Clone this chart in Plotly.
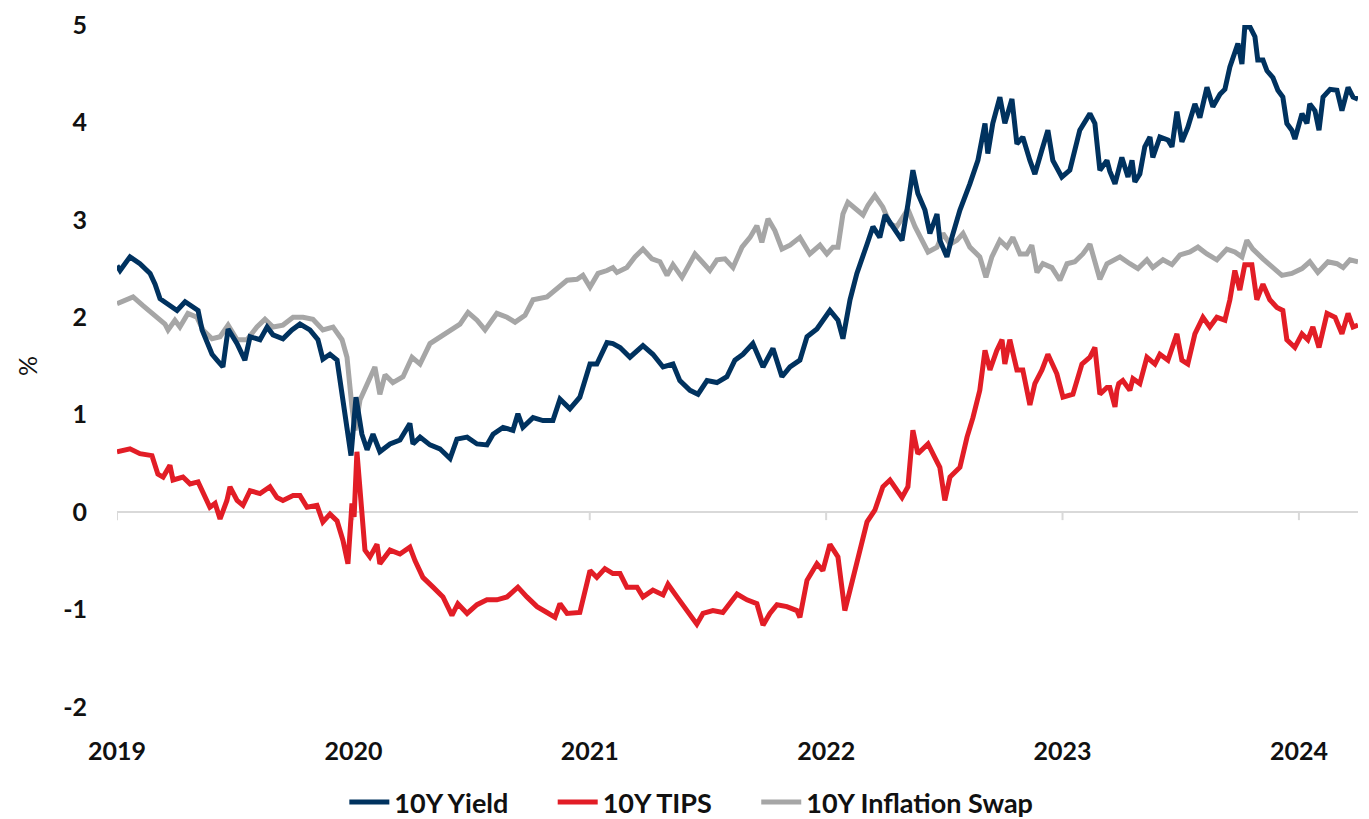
import plotly.graph_objects as go

# ---------------- data (decimal years, percent) ----------------
yield_t = [2019.000, 2019.013, 2019.055, 2019.097, 2019.140, 2019.161, 2019.182, 2019.212, 2019.254, 2019.288,
           2019.321, 2019.343, 2019.360, 2019.381, 2019.402, 2019.423, 2019.448, 2019.470, 2019.508, 2019.541,
           2019.563, 2019.605, 2019.635, 2019.660, 2019.702, 2019.740, 2019.774, 2019.816, 2019.850, 2019.871,
           2019.901, 2019.931, 2019.956, 2019.977, 2019.990, 2020.011, 2020.036, 2020.058, 2020.083, 2020.112,
           2020.155, 2020.197, 2020.239, 2020.252, 2020.282, 2020.324, 2020.366, 2020.409, 2020.438, 2020.481,
           2020.523, 2020.565, 2020.591, 2020.633, 2020.675, 2020.696, 2020.717, 2020.760, 2020.802, 2020.844,
           2020.874, 2020.916, 2020.958, 2021.001, 2021.030, 2021.073, 2021.098, 2021.128, 2021.170, 2021.225,
           2021.267, 2021.310, 2021.352, 2021.381, 2021.424, 2021.458, 2021.496, 2021.538, 2021.580, 2021.614,
           2021.648, 2021.690, 2021.733, 2021.775, 2021.813, 2021.847, 2021.889, 2021.919, 2021.961, 2022.016,
           2022.050, 2022.071, 2022.101, 2022.130, 2022.156, 2022.173, 2022.198, 2022.227, 2022.249, 2022.282,
           2022.321, 2022.346, 2022.367, 2022.388, 2022.418, 2022.439, 2022.469, 2022.481, 2022.511, 2022.532,
           2022.566, 2022.608, 2022.642, 2022.672, 2022.684, 2022.705, 2022.735, 2022.756, 2022.786, 2022.807,
           2022.832, 2022.862, 2022.883, 2022.913, 2022.938, 2022.959, 2022.997, 2023.031, 2023.073, 2023.116,
           2023.137, 2023.158, 2023.188, 2023.200, 2023.222, 2023.251, 2023.277, 2023.294, 2023.306, 2023.327,
           2023.348, 2023.370, 2023.382, 2023.412, 2023.446, 2023.463, 2023.484, 2023.505, 2023.530, 2023.560,
           2023.581, 2023.611, 2023.636, 2023.666, 2023.687, 2023.708, 2023.729, 2023.742, 2023.759, 2023.771,
           2023.793, 2023.814, 2023.826, 2023.848, 2023.865, 2023.890, 2023.911, 2023.932, 2023.949, 2023.970,
           2023.983, 2024.013, 2024.034, 2024.046, 2024.068, 2024.085, 2024.102, 2024.132, 2024.161, 2024.182,
           2024.208, 2024.229, 2024.250]
yield_v = [2.53, 2.48, 2.62, 2.55, 2.45, 2.34, 2.19, 2.14, 2.07, 2.16,
           2.10, 2.07, 1.87, 1.73, 1.62, 1.56, 1.49, 1.88, 1.73, 1.56,
           1.80, 1.77, 1.90, 1.82, 1.78, 1.87, 1.93, 1.87, 1.77, 1.57,
           1.62, 1.56, 1.15, 0.84, 0.58, 1.18, 0.80, 0.64, 0.80, 0.62,
           0.70, 0.74, 0.91, 0.70, 0.77, 0.69, 0.65, 0.55, 0.75, 0.77,
           0.70, 0.69, 0.80, 0.87, 0.84, 1.01, 0.87, 0.97, 0.94, 0.94,
           1.16, 1.06, 1.18, 1.52, 1.52, 1.74, 1.73, 1.69, 1.59, 1.71,
           1.62, 1.49, 1.52, 1.35, 1.25, 1.21, 1.35, 1.33, 1.39, 1.56,
           1.62, 1.73, 1.49, 1.68, 1.39, 1.49, 1.56, 1.80, 1.88, 2.07,
           1.97, 1.78, 2.18, 2.45, 2.65, 2.75, 2.93, 2.82, 3.05, 2.93,
           2.79, 3.16, 3.51, 3.27, 3.10, 2.86, 3.06, 2.79, 2.62, 2.82,
           3.10, 3.37, 3.61, 3.99, 3.68, 3.99, 4.26, 3.99, 4.24, 3.78,
           3.85, 3.61, 3.47, 3.72, 3.92, 3.61, 3.44, 3.51, 3.92, 4.09,
           3.99, 3.51, 3.61, 3.50, 3.37, 3.64, 3.44, 3.61, 3.39, 3.47,
           3.75, 3.85, 3.64, 3.85, 3.82, 3.75, 4.11, 3.80, 3.95, 4.19,
           4.05, 4.36, 4.16, 4.29, 4.34, 4.57, 4.70, 4.81, 4.60, 4.98,
           4.98, 4.88, 4.64, 4.64, 4.53, 4.46, 4.33, 4.26, 3.99, 3.92,
           3.83, 4.09, 3.99, 4.19, 4.12, 3.92, 4.26, 4.34, 4.33, 4.12,
           4.36, 4.26, 4.24]

tips_t = [2019.000, 2019.055, 2019.097, 2019.148, 2019.173, 2019.195, 2019.224, 2019.237, 2019.279, 2019.309,
          2019.343, 2019.364, 2019.393, 2019.415, 2019.436, 2019.465, 2019.478, 2019.508, 2019.533, 2019.563,
          2019.605, 2019.647, 2019.677, 2019.702, 2019.745, 2019.774, 2019.804, 2019.846, 2019.871, 2019.901,
          2019.931, 2019.956, 2019.977, 2019.994, 2020.003, 2020.015, 2020.032, 2020.049, 2020.070, 2020.100,
          2020.112, 2020.155, 2020.197, 2020.239, 2020.261, 2020.294, 2020.337, 2020.379, 2020.417, 2020.442,
          2020.481, 2020.523, 2020.565, 2020.607, 2020.650, 2020.696, 2020.734, 2020.777, 2020.819, 2020.853,
          2020.874, 2020.904, 2020.958, 2020.988, 2021.001, 2021.030, 2021.064, 2021.098, 2021.128, 2021.157,
          2021.200, 2021.225, 2021.267, 2021.310, 2021.331, 2021.369, 2021.411, 2021.453, 2021.479, 2021.521,
          2021.563, 2021.623, 2021.665, 2021.707, 2021.733, 2021.762, 2021.792, 2021.834, 2021.876, 2021.889,
          2021.919, 2021.961, 2021.986, 2022.016, 2022.050, 2022.079, 2022.101, 2022.130, 2022.156, 2022.173,
          2022.206, 2022.240, 2022.270, 2022.321, 2022.346, 2022.367, 2022.388, 2022.431, 2022.460, 2022.481,
          2022.502, 2022.524, 2022.566, 2022.596, 2022.621, 2022.650, 2022.672, 2022.693, 2022.722, 2022.744,
          2022.756, 2022.777, 2022.807, 2022.832, 2022.862, 2022.883, 2022.913, 2022.938, 2022.976, 2023.002,
          2023.044, 2023.082, 2023.116, 2023.137, 2023.158, 2023.188, 2023.200, 2023.222, 2023.230, 2023.238,
          2023.255, 2023.285, 2023.298, 2023.327, 2023.357, 2023.391, 2023.412, 2023.446, 2023.484, 2023.505,
          2023.530, 2023.560, 2023.594, 2023.623, 2023.653, 2023.687, 2023.708, 2023.729, 2023.750, 2023.771,
          2023.801, 2023.822, 2023.848, 2023.877, 2023.907, 2023.932, 2023.949, 2023.983, 2024.013, 2024.038,
          2024.059, 2024.085, 2024.119, 2024.153, 2024.182, 2024.208, 2024.229, 2024.250]
tips_v = [0.62, 0.65, 0.60, 0.58, 0.39, 0.36, 0.48, 0.33, 0.36, 0.29,
          0.31, 0.19, 0.05, 0.09, -0.07, 0.12, 0.26, 0.12, 0.07, 0.22,
          0.19, 0.26, 0.15, 0.12, 0.17, 0.17, 0.05, 0.07, -0.10, -0.02,
          -0.09, -0.29, -0.53, 0.09, -0.05, 0.62, 0.15, -0.39, -0.46, -0.33,
          -0.53, -0.39, -0.43, -0.36, -0.50, -0.67, -0.77, -0.87, -1.06, -0.94,
          -1.04, -0.95, -0.90, -0.90, -0.87, -0.77, -0.87, -0.97, -1.03, -1.08,
          -0.94, -1.04, -1.03, -0.74, -0.60, -0.67, -0.58, -0.63, -0.63, -0.77,
          -0.77, -0.87, -0.80, -0.85, -0.74, -0.87, -1.01, -1.15, -1.04, -1.01,
          -1.03, -0.84, -0.90, -0.94, -1.16, -1.04, -0.95, -0.97, -1.01, -1.08,
          -0.70, -0.53, -0.60, -0.33, -0.46, -1.01, -0.80, -0.50, -0.22, -0.10,
          0.02, 0.26, 0.33, 0.15, 0.26, 0.84, 0.60, 0.70, 0.56, 0.46,
          0.12, 0.36, 0.46, 0.77, 0.97, 1.25, 1.66, 1.46, 1.66, 1.77,
          1.52, 1.77, 1.46, 1.46, 1.10, 1.32, 1.46, 1.62, 1.42, 1.18,
          1.21, 1.52, 1.59, 1.69, 1.21, 1.28, 1.28, 1.08, 1.25, 1.32,
          1.35, 1.25, 1.37, 1.32, 1.59, 1.52, 1.62, 1.56, 1.83, 1.56,
          1.52, 1.83, 2.00, 1.90, 2.00, 1.97, 2.18, 2.48, 2.28, 2.54,
          2.54, 2.18, 2.34, 2.18, 2.10, 2.07, 1.77, 1.69, 1.83, 1.77,
          1.90, 1.69, 2.04, 2.00, 1.83, 2.04, 1.90, 1.92]

swap_t = [2019.000, 2019.068, 2019.110, 2019.169, 2019.203, 2019.216, 2019.245, 2019.266, 2019.300, 2019.338,
          2019.364, 2019.402, 2019.436, 2019.470, 2019.508, 2019.550, 2019.592, 2019.626, 2019.660, 2019.702,
          2019.745, 2019.787, 2019.829, 2019.871, 2019.914, 2019.952, 2019.973, 2019.994, 2020.007, 2020.028,
          2020.058, 2020.091, 2020.112, 2020.134, 2020.167, 2020.210, 2020.248, 2020.282, 2020.324, 2020.366,
          2020.409, 2020.451, 2020.485, 2020.523, 2020.557, 2020.607, 2020.650, 2020.684, 2020.726, 2020.760,
          2020.819, 2020.861, 2020.904, 2020.946, 2020.971, 2021.001, 2021.035, 2021.073, 2021.098, 2021.115,
          2021.157, 2021.191, 2021.225, 2021.263, 2021.297, 2021.327, 2021.352, 2021.390, 2021.411, 2021.445,
          2021.475, 2021.508, 2021.538, 2021.572, 2021.606, 2021.644, 2021.678, 2021.707, 2021.728, 2021.754,
          2021.783, 2021.813, 2021.847, 2021.889, 2021.931, 2021.974, 2022.003, 2022.029, 2022.050, 2022.071,
          2022.092, 2022.130, 2022.156, 2022.177, 2022.206, 2022.240, 2022.270, 2022.299, 2022.325, 2022.346,
          2022.376, 2022.405, 2022.431, 2022.469, 2022.494, 2022.524, 2022.553, 2022.579, 2022.608, 2022.650,
          2022.676, 2022.701, 2022.735, 2022.765, 2022.790, 2022.820, 2022.849, 2022.870, 2022.892, 2022.917,
          2022.955, 2022.989, 2023.019, 2023.052, 2023.086, 2023.116, 2023.137, 2023.158, 2023.188, 2023.230,
          2023.243, 2023.285, 2023.319, 2023.357, 2023.382, 2023.425, 2023.463, 2023.497, 2023.539, 2023.573,
          2023.611, 2023.653, 2023.695, 2023.729, 2023.759, 2023.780, 2023.805, 2023.848, 2023.890, 2023.928,
          2023.970, 2024.013, 2024.046, 2024.080, 2024.123, 2024.161, 2024.187, 2024.216, 2024.250]
swap_v = [2.14, 2.21, 2.12, 2.00, 1.93, 1.87, 1.97, 1.90, 2.04, 2.00,
          1.87, 1.78, 1.80, 1.92, 1.77, 1.77, 1.90, 1.98, 1.90, 1.92,
          2.00, 2.00, 1.98, 1.87, 1.90, 1.77, 1.59, 1.08, 0.84, 1.15,
          1.32, 1.49, 1.21, 1.41, 1.33, 1.39, 1.59, 1.52, 1.73, 1.80,
          1.87, 1.93, 2.05, 1.97, 1.87, 2.04, 2.00, 1.95, 2.02, 2.18,
          2.21, 2.29, 2.38, 2.39, 2.43, 2.31, 2.45, 2.48, 2.51, 2.46,
          2.51, 2.62, 2.70, 2.60, 2.57, 2.43, 2.54, 2.41, 2.51, 2.65,
          2.57, 2.48, 2.59, 2.60, 2.51, 2.72, 2.82, 2.94, 2.77, 3.01,
          2.89, 2.70, 2.74, 2.82, 2.65, 2.74, 2.65, 2.72, 2.72, 3.06,
          3.18, 3.10, 3.05, 3.15, 3.25, 3.13, 2.96, 2.93, 3.03, 3.11,
          2.93, 2.79, 2.67, 2.72, 2.86, 2.75, 2.79, 2.86, 2.72, 2.62,
          2.41, 2.62, 2.79, 2.72, 2.82, 2.65, 2.65, 2.74, 2.46, 2.55,
          2.51, 2.38, 2.55, 2.57, 2.65, 2.75, 2.55, 2.39, 2.55, 2.60,
          2.62, 2.55, 2.50, 2.59, 2.51, 2.59, 2.54, 2.64, 2.67, 2.72,
          2.65, 2.59, 2.70, 2.67, 2.62, 2.79, 2.70, 2.60, 2.51, 2.43,
          2.45, 2.50, 2.57, 2.46, 2.57, 2.55, 2.51, 2.59, 2.57]

year_ticks = [2019, 2020, 2021, 2022, 2023, 2024]
year_labels = ["2019", "2020", "2021", "2022", "2023", "2024"]
y_ticks = [-2, -1, 0, 1, 2, 3, 4, 5]
y_labels = ["-2", "-1", "0", "1", "2", "3", "4", "5"]

NAVY = "#00325f"
RED = "#e21d26"
GRAY = "#a6a6a6"
FONT = "Lato"
GAP = "\u00a0" * 6  # spacing between legend entries

fig = go.Figure()
fig.add_trace(go.Scatter(x=swap_t, y=swap_v, mode="lines", name="10Y Inflation Swap",
                         line=dict(color=GRAY, width=5), legendrank=3))
fig.add_trace(go.Scatter(x=yield_t, y=yield_v, mode="lines", name="10Y Yield" + GAP,
                         line=dict(color=NAVY, width=5), legendrank=1))
fig.add_trace(go.Scatter(x=tips_t, y=tips_v, mode="lines", name="10Y TIPS" + GAP,
                         line=dict(color=RED, width=5), legendrank=2))

# small tick marks hanging from the zero line
for yr in year_ticks:
    fig.add_shape(type="line", xref="x", yref="y", x0=yr, x1=yr,
                  ysizemode="pixel", yanchor=0, y0=0, y1=-8,
                  line=dict(color="#d9d9d9", width=2), layer="below")

fig.update_layout(
    width=1369, height=819,
    margin=dict(l=117, r=11, t=25, b=112, autoexpand=False),
    paper_bgcolor="white", plot_bgcolor="white",
    font=dict(family=FONT, color="#111111"),
    showlegend=True,
    legend=dict(orientation="h", xref="container", yref="container",
                x=0.505, xanchor="center", y=0.05, yanchor="top",
                font=dict(family=FONT, size=27, color="#111111", weight="bold"),
                itemwidth=40, traceorder="normal"),
    xaxis=dict(range=[2019, 2024.25], tickmode="array", tickvals=year_ticks, ticktext=year_labels,
               showgrid=False, zeroline=False, showline=False, automargin=False,
               ticks="outside", ticklen=22, tickcolor="rgba(0,0,0,0)",
               tickfont=dict(family=FONT, size=25, color="#111111", weight="bold")),
    yaxis=dict(range=[-2, 5], tickmode="array", tickvals=y_ticks, ticktext=y_labels,
               showgrid=False, zeroline=True, zerolinecolor="#d9d9d9", zerolinewidth=2,
               showline=False, automargin=False, ticks="outside", ticklen=24, tickcolor="rgba(0,0,0,0)",
               tickfont=dict(family=FONT, size=25, color="#111111", weight="bold"),
               title=dict(text="%", standoff=18,
                          font=dict(family=FONT, size=25, color="#111111"))),
)

fig.write_html("out.html", config={"displayModeBar": False},
               post_script=["document.body.style.margin='0px';"
                            "document.body.style.overflow='hidden';"])
